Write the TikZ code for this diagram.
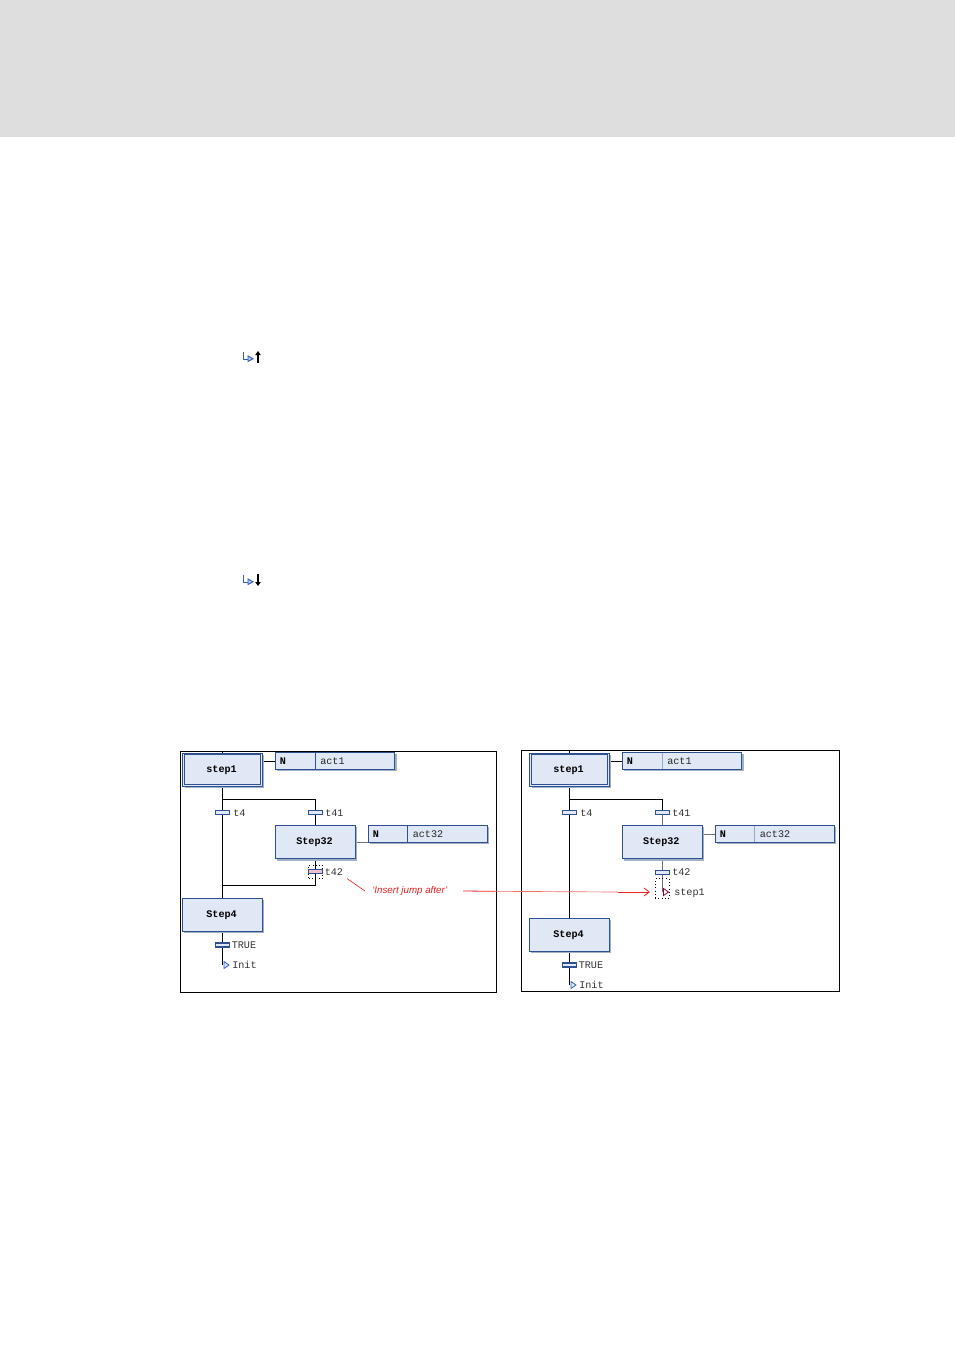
\documentclass[tikz,border=0pt]{standalone}
\usepackage{fontspec}
\setmainfont{Liberation Sans}
\setmonofont{Liberation Mono}
\usetikzlibrary{arrows.meta}
\definecolor{band}{HTML}{DEDEDE}
\definecolor{boxfill}{HTML}{E0E8F6}
\definecolor{boxedge}{HTML}{2F5090}
\definecolor{shade}{HTML}{A3B1C6}
\definecolor{redline}{HTML}{F02020}
\definecolor{softred}{HTML}{F27070}
\definecolor{trpink}{HTML}{F0C0CC}
\definecolor{jumpblue}{HTML}{3060C0}
\definecolor{softgrey}{HTML}{707070}
\tikzset{
  x=0.75pt,y=-0.75pt,
  frame/.style={draw=black,line width=0.6pt,fill=white,inner sep=0pt,minimum width=#1},
  shadowed/.style={preaction={draw=none,fill=shade,transform canvas={shift={(1.3pt,-1.3pt)}}}},
  stepbox/.style={shadowed,draw=boxedge,line width=0.75pt,fill=boxfill,inner sep=0pt,minimum width=60pt,minimum height=25pt,
    text height=5.5pt,text depth=1.5pt,execute at end node=\hspace*{1.4pt},
    font=\ttfamily\bfseries\fontsize{7.6}{9}\selectfont},
  initouter/.style={shadowed,draw=boxedge,line width=0.6pt,fill=boxfill,inner sep=0pt,minimum width=59.5pt,minimum height=25pt},
  initinner/.style={draw=boxedge,line width=0.75pt,fill=boxfill,inner sep=0pt,minimum width=57pt,minimum height=22.5pt,
    text height=5.5pt,text depth=1.5pt,execute at end node=\hspace*{1.4pt},
    font=\ttfamily\bfseries\fontsize{7.6}{9}\selectfont},
  actbox/.style={shadowed,draw=boxedge,line width=0.75pt,fill=boxfill,inner sep=0pt,minimum width=89.5pt,minimum height=12.5pt},
  acttext/.style={inner sep=0pt,anchor=base west,font=\ttfamily\fontsize{7.6}{9}\selectfont,text=black!85},
  actkey/.style={acttext,font=\ttfamily\bfseries\fontsize{7.6}{9}\selectfont,text=black},
  lbl/.style={inner sep=0pt,anchor=base west,font=\ttfamily\fontsize{7.6}{9}\selectfont,text=black!80},
  trans/.style={draw=boxedge,line width=0.6pt,fill=boxfill,inner sep=0pt,minimum width=10.5pt,minimum height=3pt},
  transsel/.style={trans,fill=trpink},
  transdark/.style={trans,line width=0.95pt},
  wire/.style={draw=black,line width=0.75pt},
  softwire/.style={draw=softgrey,line width=0.75pt},
  sel/.style={draw=black,dotted,line width=0.5pt,inner sep=0pt},
  jumptip/.style={draw=jumpblue,fill=boxfill,line width=0.6pt},
  redtip/.style={draw=purple!80!black,fill=white,line width=0.6pt},
  redthin/.style={draw=redline,line width=0.45pt},
  redsoft/.style={draw=softred,line width=0.5pt},
  iconblue/.style={draw=jumpblue,line width=1pt},
  icontip/.style={draw=jumpblue,fill=jumpblue!35,line width=0.7pt},
  iconarrow/.style={draw=black,line width=0.9pt,-{Triangle[length=3pt,width=4pt]}},
}
\begin{document}
\begin{tikzpicture}
\useasboundingbox (0,0) rectangle (955,1350);
\fill[white] (0,0) rectangle (955,1350);
\fill[band] (0,0) rectangle (955,137);

% toolbar icons
\coordinate (ia) at (243.5,351.5);
\draw[iconblue] (ia) -- ++(0,8) -- ++(4,0);
\draw[icontip] (ia) ++(4.5,4.5) -- ++(5,2.75) -- ++(-5,2.75) -- cycle;
\draw[iconarrow] (258,363) -- (258,351);
\coordinate (ib) at (243.5,574.5);
\draw[iconblue] (ib) -- ++(0,8) -- ++(4,0);
\draw[icontip] (ib) ++(4.5,4.5) -- ++(5,2.75) -- ++(-5,2.75) -- cycle;
\draw[iconarrow] (258,574) -- (258,586);

% frames
\node[frame=237pt,minimum height=180.4pt] (fl) at (338.5,871.75) {};
\node[frame=238.5pt,minimum height=180.8pt] (fr) at (680.5,871) {};

% LEFT DIAGRAM
\coordinate (ltop) at (222.5,751.5);
\coordinate (lbr) at (222.5,799);
\coordinate (lbr2) at (315.5,799);
\coordinate (lj1) at (315.5,885.5);
\coordinate (lj2) at (222.5,885.5);
\coordinate (lend) at (222.5,965);
\draw[wire] (ltop) -- (222.5,780);
\draw[wire] (222.5,780) -- (lbr) -- (222.5,900);
\draw[wire] (lbr) -- (lbr2) -- (315.5,830);
\draw[wire] (315.5,855) -- (lj1) -- (lj2);
\draw[wire] (222.5,930) -- (lend);
\draw[wire] (255,761) -- (280,761);
\draw[softwire] (350,842) -- (372,842);

\node[initouter] (ls1o) at (222.5,769.75) {};
\node[initinner] (ls1) at (222.5,769.5) {step1};
\node[actbox] (la1) at (335.25,761) {};
\draw[boxedge,line width=0.6pt] (315,752.7) -- (315,769.3);
\node[actkey] (la1n) at (279.5,764) {N};
\node[acttext] (la1t) at (320,764) {act1};
\node[trans] (lt4) at (222.5,812.5) {};
\node[lbl] (lt4l) at (233,816) {t4};
\node[trans] (lt41) at (315.5,812.5) {};
\node[lbl] (lt41l) at (325,816) {t41};
\node[stepbox] (ls32) at (315.5,842.25) {Step32};
\node[actbox] (la32) at (428,834) {};
\draw[boxedge,line width=0.6pt] (407.5,825.7) -- (407.5,842.3);
\node[actkey] (la32n) at (372.5,837) {N};
\node[acttext] (la32t) at (412.5,837) {act32};
\node[sel,minimum width=10.5pt,minimum height=10pt] (lsel) at (315.5,871.75) {};
\node[transsel] (lt42) at (315.5,871.75) {};
\node[lbl] (lt42l) at (324.5,875) {t42};
\node[stepbox] (ls4) at (222.5,915) {Step4};
\node[transdark] (ltr) at (222.5,945) {};
\node[lbl] (ltrl) at (231.5,948) {TRUE};
\draw[jumptip] (lend) ++(1.5,-3.5) -- ++(5,3.5) -- ++(-5,3.5) -- cycle;
\node[lbl] (linit) at (232,968) {Init};

% RIGHT DIAGRAM
\coordinate (rtop) at (569.5,750.5);
\coordinate (rbr) at (569.5,799);
\coordinate (rbr2) at (662,799);
\coordinate (rj) at (662,892);
\coordinate (rend) at (569.5,985);
\draw[wire] (rtop) -- (569.5,780);
\draw[wire] (569.5,780) -- (rbr) -- (569.5,920);
\draw[wire] (rbr) -- (rbr2) -- (662,812);
\draw[softwire] (662,812) -- (662,830);
\draw[softwire] (662,855) -- (rj);
\draw[wire] (569.5,950) -- (rend);
\draw[wire] (600,761) -- (628,761);
\draw[softwire] (698,834) -- (720,834);

\node[initouter] (rs1o) at (569.5,769.75) {};
\node[initinner] (rs1) at (569.5,769.5) {step1};
\node[actbox] (ra1) at (682.25,761) {};
\draw[boxedge!50!white,line width=0.6pt] (662,752.7) -- (662,769.3);
\node[actkey] (ra1n) at (626.5,764) {N};
\node[acttext] (ra1t) at (667,764) {act1};
\node[trans] (rt4) at (569.5,812.5) {};
\node[lbl] (rt4l) at (580,816) {t4};
\node[trans] (rt41) at (662,812.5) {};
\node[lbl] (rt41l) at (672,816) {t41};
\node[stepbox] (rs32) at (662.25,842.25) {Step32};
\node[actbox] (ra32) at (775,834) {};
\draw[boxedge!50!white,line width=0.6pt] (754.5,825.7) -- (754.5,842.3);
\node[actkey] (ra32n) at (719.5,837) {N};
\node[acttext] (ra32t) at (759.5,837) {act32};
\node[trans] (rt42) at (662,872) {};
\node[lbl] (rt42l) at (672,875) {t42};
\node[sel,minimum width=10.5pt,minimum height=15pt] (rsel) at (662,888.5) {};
\draw[redtip] (rj) ++(1.5,-3.5) -- ++(5,3.5) -- ++(-5,3.5) -- cycle;
\node[lbl] (rjl) at (674,895) {step1};
\node[stepbox] (rs4) at (569.5,935) {Step4};
\node[transdark] (rtr) at (569.5,965) {};
\node[lbl] (rtrl) at (578.5,968) {TRUE};
\draw[jumptip] (rend) ++(1.5,-3.5) -- ++(5,3.5) -- ++(-5,3.5) -- cycle;
\node[lbl] (rinit) at (579,988) {Init};

% annotation
\node[inner sep=0pt,anchor=base west,text=redline,font=\itshape\fontsize{7.3}{8}\selectfont] (note) at (372,893.5) {`Insert jump after'};
\coordinate (nstart) at (347,878.5);
\coordinate (nbend) at (365,891);
\coordinate (aa) at (463,891);
\coordinate (ab) at (495,891.3);
\coordinate (ac) at (618,892);
\coordinate (ad) at (650,892);
\draw[redthin] (nstart) -- (nbend);
\draw[redthin,line width=0.6pt] (aa) -- (ab);
\draw[redsoft] (ab) -- (ac);
\draw[redthin,line width=0.6pt,-{Straight Barb[length=4pt,width=6pt]}] (ac) -- (ad);
\end{tikzpicture}
\end{document}
